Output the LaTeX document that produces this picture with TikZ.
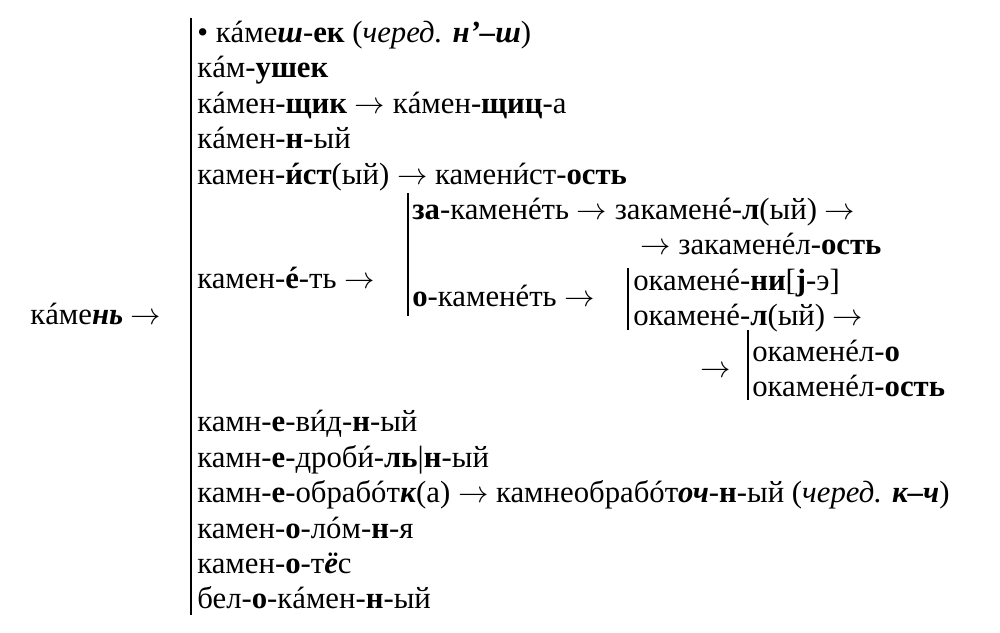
\documentclass[tikz,border=0pt]{standalone}
\usepackage{fontspec}
\setmainfont{Liberation Serif}
\usepackage{tikz}
\newcommand{\bfit}[1]{\textbf{\textit{#1}}}
\newcommand{\stress}[1]{\ooalign{#1\cr\hidewidth\kern0.08em\char"00B4\hidewidth\cr}}

\begin{document}
\begin{tikzpicture}[x=0.02cm,y=-0.02cm,every node/.style={inner sep=0pt,anchor=base west,font=\fontsize{17.5}{21}\selectfont},bar/.style={line width=1pt}]
      \useasboundingbox (0,0) rectangle (1000,632);
      \node (root) at (30,324) {к\stress{а}ме\bfit{нь} $\rightarrow$};
      \coordinate (b1t) at (191,18);
      \coordinate (b1b) at (191,615);
      \draw[bar] (b1t) -- (b1b);
      \node (r1) at (197,42) {• к\stress{а}ме\bfit{ш}-\textbf{ек} (\textit{черед.} \bfit{н’–ш})};
      \node (r2) at (197,77) {к\stress{а}м-\textbf{ушек}};
      \node (r3) at (197,113) {к\stress{а}мен-\textbf{щик} $\rightarrow$ к\stress{а}мен-\textbf{щиц}-а};
      \node (r4) at (197,148) {к\stress{а}мен-\textbf{н}-ый};
      \node (r5) at (197,184) {камен-\textbf{\stress{и}ст}(ый) $\rightarrow$ камен\stress{и}ст-\textbf{ость}};
      \node (r6) at (197,288) {камен-\textbf{\stress{е}}-ть $\rightarrow$};
      \coordinate (b2t) at (408,193);
      \coordinate (b2b) at (408,316);
      \draw[bar] (b2t) -- (b2b);
      \node (za) at (412,219) {\textbf{за}-камен\stress{е}ть $\rightarrow$ закамен\stress{е}-\textbf{л}(ый) $\rightarrow$};
      \node (zaost) at (640,254) {$\rightarrow$ закамен\stress{е}л-\textbf{ость}};
      \node (o) at (412,306) {\textbf{о}-камен\stress{е}ть $\rightarrow$};
      \coordinate (b3t) at (628,268);
      \coordinate (b3b) at (628,330);
      \draw[bar] (b3t) -- (b3b);
      \node (oni) at (633,290) {окамен\stress{е}-\textbf{ни}[\textbf{j}-э]};
      \node (ol) at (633,325) {окамен\stress{е}-\textbf{л}(ый) $\rightarrow$};
      \node (oarr) at (700,377) {$\rightarrow$};
      \coordinate (b4t) at (748,330);
      \coordinate (b4b) at (748,400);
      \draw[bar] (b4t) -- (b4b);
      \node (olo) at (752,361) {окамен\stress{е}л-\textbf{о}};
      \node (olost) at (752,396) {окамен\stress{е}л-\textbf{ость}};
      \node (r7) at (197,431) {камн-\textbf{е}-в\stress{и}д-\textbf{н}-ый};
      \node (r8) at (197,467) {камн-\textbf{е}-дроб\stress{и}-\textbf{ль}|\textbf{н}-ый};
      \node (r9) at (197,502) {камн-\textbf{е}-обраб\stress{о}т\bfit{к}(а) $\rightarrow$ камнеобраб\stress{о}т\bfit{оч}-\textbf{н}-ый (\textit{черед.} \bfit{к–ч})};
      \node (r10) at (197,538) {камен-\textbf{о}-л\stress{о}м-\textbf{н}-я};
      \node (r11) at (197,573) {камен-\textbf{о}-т\bfit{ё}с};
      \node (r12) at (197,608) {бел-\textbf{о}-к\stress{а}мен-\textbf{н}-ый};
\end{tikzpicture}
\end{document}
